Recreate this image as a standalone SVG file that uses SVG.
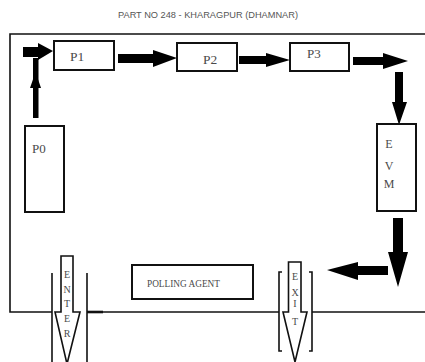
<svg xmlns="http://www.w3.org/2000/svg" width="425" height="362" viewBox="0 0 425 362">
<style>
.box{fill:#fff;stroke:#111;stroke-width:2}
.lbl{fill:#4a4a4a}
.ln{stroke:#111;stroke-width:1.6;fill:none}
.arr{fill:#000}
.door{fill:#fff;stroke:#111;stroke-width:1.6}
</style>
<rect width="425" height="362" fill="#fff"/>
<text x="208" y="18" font-family="'Liberation Sans', Arial, sans-serif" font-size="8.5" fill="#555" text-anchor="middle" textLength="180" lengthAdjust="spacingAndGlyphs">PART NO 248 - KHARAGPUR (DHAMNAR)</text>
<g id="room">
<polyline class="ln" points="52,312 10,312 10,34 425,34"/>
<line class="ln" x1="87" y1="312" x2="279" y2="312"/>
<line x1="87" y1="312" x2="103" y2="312" stroke="#111" stroke-width="2.6"/>
<line class="ln" x1="312" y1="312" x2="425" y2="312"/>
</g>
<g id="connectors">
<rect class="arr" x="33" y="58" width="5.5" height="60"/>
<polygon class="arr" points="30,88 41,88 35.5,72"/>
<polygon class="arr" points="23,47 38,47 38,43 53,51 38,60 38,57 23,57"/>
<polygon class="arr" points="118,54 153,54 153,50 177,58 153,67 153,63 118,63"/>
<polygon class="arr" points="239,56 266,56 266,53 290,60 266,67 266,64 239,64"/>
<polygon class="arr" points="353,57 383,57 383,53 408,61 383,69 383,65 353,65"/>
<polygon class="arr" points="395,72 403,72 403,102 407,102 399,125 392,102 395,102"/>
<polygon class="arr" points="393,218 403,218 403,252 408,252 398,287 388,252 393,252"/>
<polygon class="arr" points="388,266 388,275 358,275 358,280 327,270 358,262 358,266"/>
</g>
<g font-family="'Liberation Serif', 'Times New Roman', serif">
<g id="P1"><rect class="box" x="54" y="41" width="60" height="29"/><text class="lbl" x="70" y="61" font-size="13.5">P1</text></g>
<g id="P2"><rect class="box" x="177" y="43" width="60" height="28"/><text class="lbl" x="203" y="64" font-size="13.5">P2</text></g>
<g id="P3"><rect class="box" x="290" y="43" width="59" height="28"/><text class="lbl" x="307" y="58" font-size="13">P3</text></g>
<g id="P0"><rect class="box" x="25" y="126" width="39" height="86"/><text class="lbl" x="32" y="153" font-size="13">P0</text></g>
<g id="EVM"><rect class="box" x="377" y="124" width="39" height="87"/>
<text class="lbl" font-size="12" text-anchor="middle"><tspan x="389" y="148">E</tspan><tspan x="389" y="170">V</tspan><tspan x="389" y="188">M</tspan></text></g>
<g id="polling-agent"><rect class="box" x="132" y="265" width="121" height="34"/><text class="lbl" x="147" y="287" font-size="11" textLength="73" lengthAdjust="spacingAndGlyphs">POLLING AGENT</text></g>
<g id="enter">
<line class="ln" x1="52" y1="273" x2="52" y2="362"/>
<line class="ln" x1="87" y1="273" x2="87" y2="362"/>
<polygon class="door" points="61,256 73,256 73,312 80,312 67,364 55,312 61,312"/>
<text class="lbl" font-size="10" text-anchor="middle"><tspan x="67" y="278">E</tspan><tspan x="67" y="293">N</tspan><tspan x="67" y="307">T</tspan><tspan x="67" y="322">E</tspan><tspan x="67" y="337">R</tspan></text>
</g>
<g id="exit">
<polyline class="ln" points="282,272 279,272 279,351 282,351"/>
<polyline class="ln" points="309,272 312,272 312,351 309,351"/>
<polygon class="door" points="288.5,262 301,262 301,312 307,312 295,362 283,312 288.5,312"/>
<text class="lbl" font-size="10" text-anchor="middle"><tspan x="295" y="280">E</tspan><tspan x="295" y="296">X</tspan><tspan x="295" y="307">I</tspan><tspan x="295" y="325">T</tspan></text>
</g>
</g>
</svg>
